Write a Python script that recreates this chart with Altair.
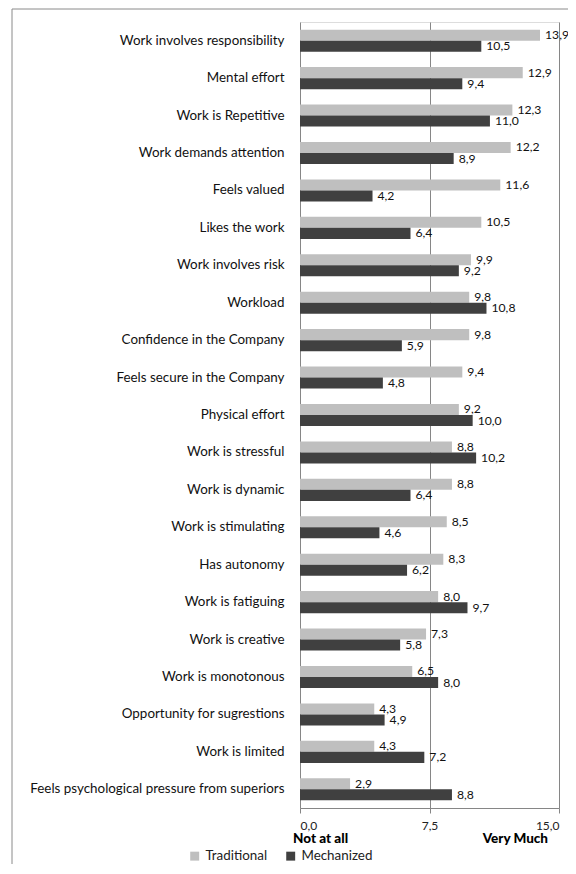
import altair as alt
import pandas as pd

categories = [
    "Work involves responsibility", "Mental effort", "Work is Repetitive",
    "Work demands attention", "Feels valued", "Likes the work",
    "Work involves risk", "Workload", "Confidence in the Company",
    "Feels secure in the Company", "Physical effort", "Work is stressful",
    "Work is dynamic", "Work is stimulating", "Has autonomy",
    "Work is fatiguing", "Work is creative", "Work is monotonous",
    "Opportunity for sugrestions", "Work is limited",
    "Feels psychological pressure from superiors",
]
traditional = [13.9, 12.9, 12.3, 12.2, 11.6, 10.5, 9.9, 9.8, 9.8, 9.4, 9.2,
               8.8, 8.8, 8.5, 8.3, 8.0, 7.3, 6.5, 4.3, 4.3, 2.9]
mechanized = [10.5, 9.4, 11.0, 8.9, 4.2, 6.4, 9.2, 10.8, 5.9, 4.8, 10.0,
              10.2, 6.4, 4.6, 6.2, 9.7, 5.8, 8.0, 4.9, 7.2, 8.8]
series = ["Traditional", "Mechanized"]
x_ticks = [0, 7.5, 15]
end_labels = ["Not at all", "Very Much"]
end_values = [0, 15]

rows = []
for c, t, m in zip(categories, traditional, mechanized):
    rows.append({"category": c, "series": series[0], "value": t})
    rows.append({"category": c, "series": series[1], "value": m})
df = pd.DataFrame(rows)

W, H = 259, 786
FONT = "Lato"

xscale = alt.Scale(domain=[0, 15], nice=False)
yscale = alt.Scale(domain=categories, paddingInner=0.41, paddingOuter=0.205)
offscale = alt.Scale(domain=series, paddingInner=0, paddingOuter=0)

base = alt.Chart(df)

bars = base.mark_bar().encode(
    x=alt.X("value:Q", scale=xscale, title=None,
            axis=alt.Axis(values=x_ticks, grid=True, gridColor="#868686",
                          domainColor="#868686", tickColor="#868686",
                          tickSize=5, labelPadding=7, labelFontSize=12,
                          labelColor="#222222", labelFont=FONT,
                          labelExpr="replace(format(datum.value, '.1f'), '.', ',')")),
    y=alt.Y("category:N", scale=yscale, sort=categories, title=None,
            axis=alt.Axis(domain=False, ticks=False, labelPadding=16,
                          labelFontSize=13.4, labelColor="#111111",
                          labelFont=FONT, labelLimit=400)),
    yOffset=alt.YOffset("series:N", scale=offscale, sort=series),
    color=alt.Color("series:N", sort=series,
                    scale=alt.Scale(domain=series, range=["#BFBFBF", "#404040"]),
                    legend=alt.Legend(title=None, orient="none", direction="horizontal",
                                      legendX=-112, legendY=827,
                                      symbolType="square", symbolSize=80,
                                      symbolStrokeWidth=0,
                                      labelFontSize=13.4, labelFont=FONT,
                                      labelColor="#222222", columnPadding=16,
                                      labelOffset=4)),
)

labels = base.transform_calculate(
    label="replace(format(datum.value, '.1f'), '.', ',')"
).mark_text(align="left", baseline="middle", dx=5, fontSize=12.2,
            font=FONT, color="#111111").encode(
    x=alt.X("value:Q", scale=xscale),
    y=alt.Y("category:N", scale=yscale, sort=categories),
    yOffset=alt.YOffset("series:N", scale=offscale, sort=series),
    text="label:N",
)

ends_df = pd.DataFrame({"label": end_labels, "value": end_values})
end_text_left = alt.Chart(ends_df.iloc[[0]]).mark_text(
    align="left", baseline="middle", dx=-7, fontSize=13.5, fontWeight=900,
    font=FONT, color="#000000"
).encode(x=alt.X("value:Q", scale=xscale), y=alt.value(H + 31), text="label:N")
end_text_right = alt.Chart(ends_df.iloc[[1]]).mark_text(
    align="right", baseline="middle", dx=-11, fontSize=13.5, fontWeight=900,
    font=FONT, color="#000000"
).encode(x=alt.X("value:Q", scale=xscale), y=alt.value(H + 31), text="label:N")

one = pd.DataFrame({"a": [0]})
frame_left = alt.Chart(one).mark_rule(color="#8a8a8a", strokeWidth=1).encode(
    x=alt.value(-288), y=alt.value(-13), y2=alt.value(842))
frame_top = alt.Chart(one).mark_rule(color="#8a8a8a", strokeWidth=1).encode(
    y=alt.value(-13), x=alt.value(-288), x2=alt.value(268))

chart = alt.layer(frame_left, frame_top, bars, labels, end_text_left, end_text_right).properties(
    width=W, height=H,
    autosize=alt.AutoSizeParams(type="none"),
    padding={"left": 292, "top": 14, "right": 9, "bottom": 56},
).configure_view(strokeWidth=0).configure(background="white")

chart.save("out.html", embed_options={"renderer": "svg", "actions": False})
